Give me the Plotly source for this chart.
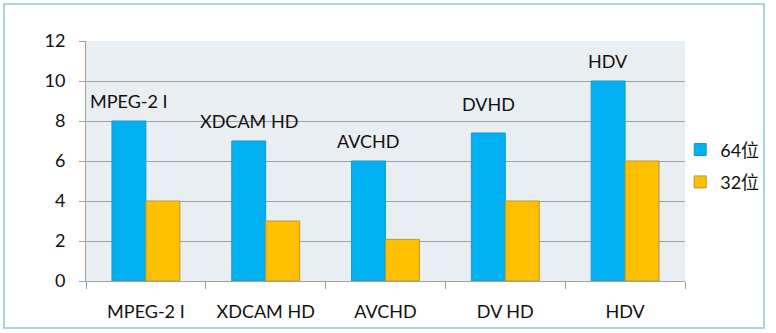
import plotly.graph_objects as go

categories = ["MPEG-2 I", "XDCAM HD", "AVCHD", "DV HD", "HDV"]
bar_labels = ["MPEG-2 I", "XDCAM HD", "AVCHD", "DVHD", "HDV"]
values_64 = [8, 7, 6, 7.4, 10]
values_32 = [4, 3, 2.08, 4, 6]
series_names = ["64位", "32位"]
y_ticks = [0, 2, 4, 6, 8, 10, 12]

W, H = 776, 333
ML, MR, MT, MB = 86, 91, 41, 52
PW, PH = W - ML - MR, H - MT - MB
FONT = "Lato, 'Noto Sans CJK SC', sans-serif"
TXT = "#111111"

fig = go.Figure()
fig.add_trace(go.Bar(x=categories, y=values_64, name=series_names[0],
                     marker=dict(color="#00B0F0", line=dict(color="#1A9AC8", width=1)),
                     legendgroup="a"))
fig.add_trace(go.Bar(x=categories, y=values_32, name=series_names[1],
                     marker=dict(color="#FFC000", line=dict(color="#B89A30", width=1)),
                     legendgroup="b"))

bargap = 0.433
bar_px = PW / len(categories) * (1 - bargap) / 2
label_shift = [7, 7, 7, 16, 7]
for lab, v, ys in zip(bar_labels, values_64, label_shift):
    fig.add_annotation(x=categories[bar_labels.index(lab)], y=v, text=lab,
                       showarrow=False, yanchor="bottom", xanchor="center",
                       xshift=-bar_px / 2, yshift=ys,
                       font=dict(family=FONT, size=18, color=TXT))

# outer frame
fig.add_shape(type="rect", xref="paper", yref="paper",
              x0=(4 - ML) / PW, x1=(764 - ML) / PW,
              y0=(H - MB - 328) / PH, y1=(H - MB - 4) / PH,
              line=dict(color="#8CC8D8", width=1.5), fillcolor="rgba(0,0,0,0)",
              layer="below")

fig.update_layout(
    width=W, height=H,
    margin=dict(l=ML, r=MR, t=MT, b=MB),
    paper_bgcolor="white",
    plot_bgcolor="#E9EEF2",
    barmode="group", bargap=bargap, bargroupgap=0,
    font=dict(family=FONT, size=18, color=TXT),
    showlegend=True,
    legend=dict(x=0.992, xanchor="left", y=0.48, yanchor="middle",
                font=dict(family=FONT, size=18, color=TXT),
                tracegroupgap=6, itemwidth=30, bgcolor="rgba(0,0,0,0)"),
    xaxis=dict(type="category", showgrid=False, showline=True, linecolor="#A0A0A0",
               ticks="outside", tickson="boundaries", ticklen=7, tickcolor="#A0A0A0",
               ticklabelstandoff=14, tickfont=dict(family=FONT, size=18, color=TXT)),
    yaxis=dict(range=[0, 12], tickvals=y_ticks, showgrid=True, gridcolor="#A0A0A0",
               gridwidth=1, showline=True, linecolor="#A0A0A0", ticks="outside",
               ticklen=6, tickcolor="#A0A0A0", zeroline=False,
               ticklabelstandoff=10, tickfont=dict(family=FONT, size=18, color=TXT)),
)

fig.write_html("out.html")
